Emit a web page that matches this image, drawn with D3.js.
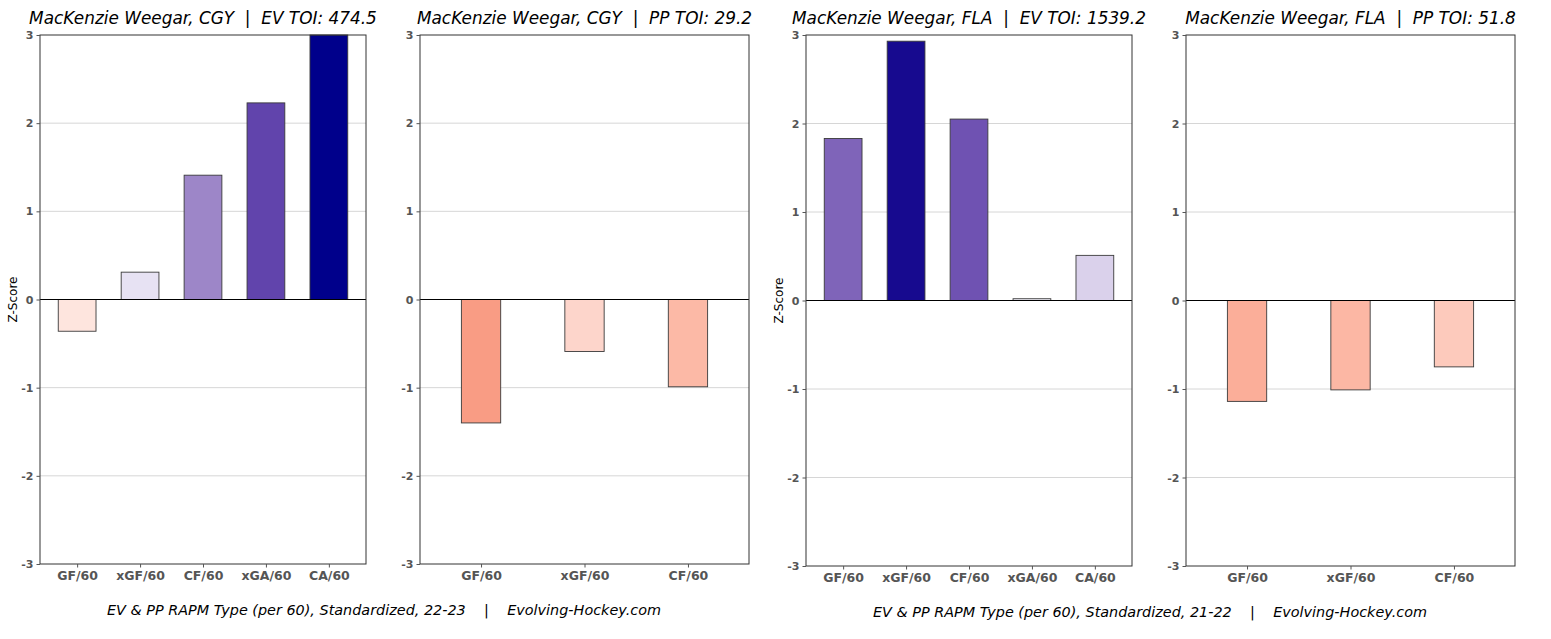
<!DOCTYPE html>
<html>
<head>
<meta charset="utf-8">
<script src="https://cdn.jsdelivr.net/npm/d3@7"></script>
<style>
  body { margin: 0; background: #fff; }
  text { font-family: "DejaVu Sans", sans-serif; }
</style>
</head>
<body>
<div id="chart"></div>
<script>
// Categories
let cats5 = ["GF/60", "xGF/60", "CF/60", "xGA/60", "CA/60"];
let cats3 = ["GF/60", "xGF/60", "CF/60"];

// Z-score values
let cgyEV = [-0.36, 0.31, 1.41, 2.23, 3.0];
let cgyPP = [-1.40, -0.59, -0.99];
let flaEV = [1.83, 2.93, 2.05, 0.02, 0.51];
let flaPP = [-1.14, -1.01, -0.75];

let yTicks = [-3, -2, -1, 0, 1, 2, 3];

let titles = [
	"MacKenzie Weegar, CGY  |  EV TOI: 474.5",
	"MacKenzie Weegar, CGY  |  PP TOI: 29.2",
	"MacKenzie Weegar, FLA  |  EV TOI: 1539.2",
	"MacKenzie Weegar, FLA  |  PP TOI: 51.8"
];
let footers = [
	"EV & PP RAPM Type (per 60), Standardized, 22-23    |    Evolving-Hockey.com",
	"EV & PP RAPM Type (per 60), Standardized, 21-22    |    Evolving-Hockey.com"
];

// layout for each panel
let panels = [
	{ cats: cats5, vals: cgyEV, title: titles[0], x0: 40, x1: 366, y0: 35, y1: 564, ylab: true, bw: 0.6 },
	{ cats: cats3, vals: cgyPP, title: titles[1], x0: 420, x1: 749, y0: 35, y1: 564, ylab: false, bw: 0.38 },
	{ cats: cats5, vals: flaEV, title: titles[2], x0: 806, x1: 1132, y0: 35, y1: 566, ylab: true, bw: 0.6 },
	{ cats: cats3, vals: flaPP, title: titles[3], x0: 1186, x1: 1515, y0: 35, y1: 566, ylab: false, bw: 0.38 }
];

// colour map: reds for negative, purples/navy for positive
let posColor = d3.scaleLinear()
	.domain([0, 0.3, 1.4, 2.2, 2.93, 3])
	.range(["#f3f0f9", "#e8e3f3", "#9e87c8", "#6446ad", "#170a8f", "#00008b"])
	.clamp(true);
let negColor = d3.scaleLinear()
	.domain([-1.4, -1.0, -0.6, -0.36, 0])
	.range(["#f99c84", "#fcb8a5", "#fdd4ca", "#fee5de", "#fff5f0"])
	.clamp(true);
let barColor = v => v >= 0 ? posColor(v) : negColor(v);

let svg = d3.select("#chart").append("svg")
	.attr("width", 1551)
	.attr("height", 639);

panels.forEach(p => {
	let n = p.cats.length;
	let x = d3.scaleLinear().domain([-0.59, n - 1 + 0.59]).range([p.x0, p.x1]);
	let y = d3.scaleLinear().domain([-3, 3]).range([p.y1, p.y0]);
	let unit = x(1) - x(0);

	let g = svg.append("g");

	// grid
	g.selectAll(".grid")
		.data(yTicks.filter(t => t !== 0 && Math.abs(t) !== 3))
		.enter()
		.append("line")
		.attr("x1", p.x0).attr("x2", p.x1)
		.attr("y1", d => y(d)).attr("y2", d => y(d))
		.attr("stroke", "#d6d6d6")
		.attr("stroke-width", 1);

	// bars
	g.selectAll(".bar")
		.data(p.vals)
		.enter()
		.append("rect")
		.attr("x", (d, i) => x(i) - unit * p.bw / 2)
		.attr("width", unit * p.bw)
		.attr("y", d => y(Math.max(0, Math.min(3, d))))
		.attr("height", d => Math.abs(y(Math.min(3, d)) - y(0)))
		.attr("fill", d => barColor(d))
		.attr("stroke", "#3a3a3a")
		.attr("stroke-width", 0.9);

	// zero line
	g.append("line")
		.attr("x1", p.x0).attr("x2", p.x1)
		.attr("y1", y(0)).attr("y2", y(0))
		.attr("stroke", "#000")
		.attr("stroke-width", 1);

	// frame
	g.append("rect")
		.attr("x", p.x0).attr("y", p.y0)
		.attr("width", p.x1 - p.x0).attr("height", p.y1 - p.y0)
		.attr("fill", "none")
		.attr("stroke", "#333")
		.attr("stroke-width", 1);

	// y axis
	let yAxis = d3.axisLeft(y).tickValues(yTicks).tickFormat(d => String(d)).tickSize(3.5).tickPadding(3);
	let ya = g.append("g").attr("transform", "translate(" + p.x0 + ",0)").call(yAxis);
	ya.select(".domain").remove();
	ya.selectAll("line").attr("stroke", "#555");
	ya.selectAll("text")
		.attr("fill", "#555")
		.attr("font-size", 11)
		.attr("font-weight", "bold")
		.style("font-family", "DejaVu Sans");

	// x axis
	let xAxis = d3.axisBottom(x).tickValues(d3.range(n)).tickFormat(i => p.cats[i]).tickSize(3.5).tickPadding(4);
	let xa = g.append("g").attr("transform", "translate(0," + p.y1 + ")").call(xAxis);
	xa.select(".domain").remove();
	xa.selectAll("line").attr("stroke", "#555");
	xa.selectAll("text")
		.attr("fill", "#555")
		.attr("font-size", 12.5)
		.attr("font-weight", "bold")
		.style("font-family", "DejaVu Sans");

	// title
	g.append("text")
		.attr("x", (p.x0 + p.x1) / 2)
		.attr("y", 24)
		.attr("text-anchor", "middle")
		.attr("font-size", 16.9)
		.attr("font-style", "italic")
		.style("white-space", "pre")
		.text(p.title);

	if (p.ylab) {
		g.append("text")
			.attr("transform", "translate(" + (p.x0 - 23) + "," + y(0) + ") rotate(-90)")
			.attr("text-anchor", "middle")
			.attr("font-size", 12)
			.text("Z-Score");
	}
});

// footers
svg.append("text")
	.attr("x", 384).attr("y", 615)
	.attr("text-anchor", "middle")
	.attr("font-size", 14.4)
	.attr("font-style", "italic")
	.style("white-space", "pre")
	.text(footers[0]);

svg.append("text")
	.attr("x", 1150).attr("y", 617)
	.attr("text-anchor", "middle")
	.attr("font-size", 14.4)
	.attr("font-style", "italic")
	.style("white-space", "pre")
	.text(footers[1]);
</script>
</body>
</html>
